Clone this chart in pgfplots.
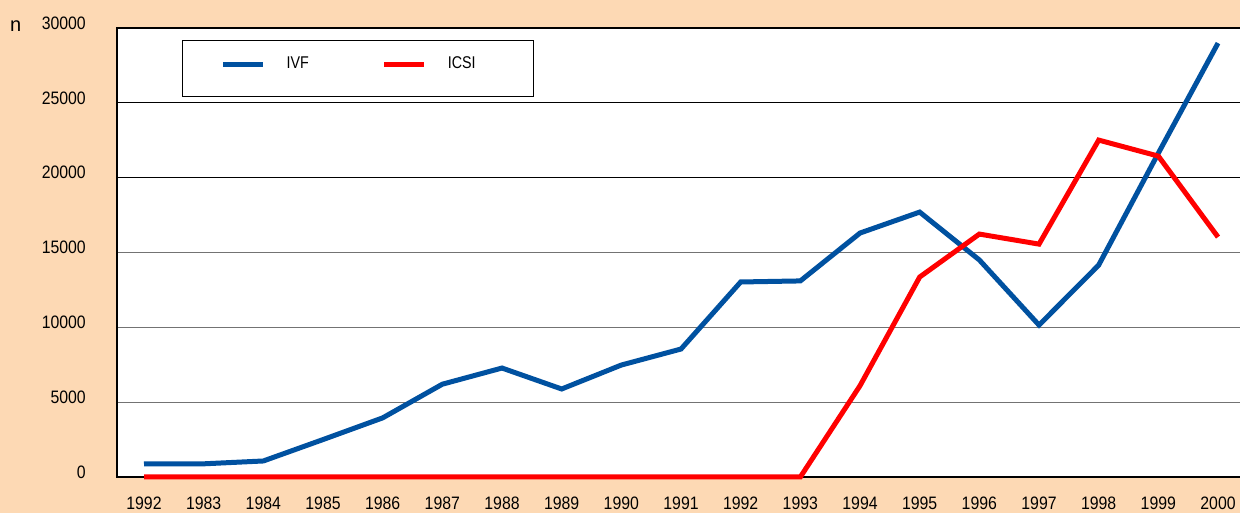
\documentclass[border=0pt]{standalone}
\usepackage{fontspec}
\setmainfont{Liberation Sans}
\newfontfamily\lib{Liberation Sans}
\newfontfamily\ticks{Liberation Sans}[FakeStretch=0.88]
\newfontfamily\legf{Liberation Sans}[FakeStretch=0.84]
\usepackage{pgfplots}
\pgfplotsset{compat=1.18}
\definecolor{peach}{RGB}{253,217,180}
\definecolor{ivfblue}{RGB}{0,81,160}
\definecolor{icsired}{RGB}{255,0,0}
\begin{document}
\begin{tikzpicture}[x=1bp,y=1bp]
\fill[peach] (0,0) rectangle (1240,513);
\useasboundingbox (0,0) rectangle (1240,513);
\node[anchor=base west,inner sep=0pt,font=\lib\fontsize{20bp}{24bp}\selectfont] at (10,481) {n};
\begin{axis}[
  at={(117bp,36bp)}, anchor=south west,
  scale only axis, width=1133.7bp, height=449bp,
  xmin=-0.4525, xmax=18.5475, ymin=0, ymax=30000,
  clip=false,
  axis background/.style={fill=white},
  axis line style={line width=2.5bp, black},
  major tick length=0pt,
  xtick={0,...,18},
  xticklabels={1992,1983,1984,1985,1986,1987,1988,1989,1990,1991,1992,1993,1994,1995,1996,1997,1998,1999,2000},
  ytick={0,5000,10000,15000},
  extra y ticks={20000,25000,30000},
  extra y tick style={grid style={black, line width=1bp}},
  ymajorgrids,
  grid style={black!55, line width=1bp},
  scaled y ticks=false,
  /pgf/number format/assume math mode=true,
  yticklabel={\pgfmathprintnumber[fixed,1000 sep={}]{\tick}},
  tick label style={font=\ticks\fontsize{18bp}{21bp}\selectfont, inner sep=0pt},
  xticklabel style={anchor=north, yshift=-20bp},
  yticklabel style={anchor=east, xshift=-31bp, yshift=5bp},
  legend columns=2,
  legend image code/.code={\draw[#1] (0bp,4bp) -- (40bp,4bp);},
  legend style={
    at={(0.0573,0.9733)}, anchor=north west,
    draw=black, line width=1.5bp, fill=white,
    inner xsep=38bp, inner ysep=0bp,
    font=\legf\fontsize{17bp}{20bp}\selectfont,
    nodes={inner sep=0pt, text depth=28bp, text height=28bp},
    /tikz/every odd column/.append style={column sep=21bp},
    /tikz/every even column/.append style={column sep=73bp},
  },
]
\addplot[ivfblue, line width=5bp] coordinates {
(0,870) (1,880) (2,1070) (3,2500) (4,3950) (5,6200) (6,7280) (7,5880) (8,7480) (9,8550)
(10,13030) (11,13100) (12,16300) (13,17700) (14,14500) (15,10150) (16,14160) (17,21640) (18,28990)};
\addlegendentry{IVF}
\addplot[icsired, line width=5bp] coordinates {
(0,0) (1,0) (2,0) (3,0) (4,0) (5,0) (6,0) (7,0) (8,0) (9,0)
(10,0) (11,0) (12,6100) (13,13360) (14,16230) (15,15560) (16,22510) (17,21440) (18,16030)};
\addlegendentry{ICSI\rule{20bp}{0pt}}
\end{axis}
\end{tikzpicture}
\end{document}
